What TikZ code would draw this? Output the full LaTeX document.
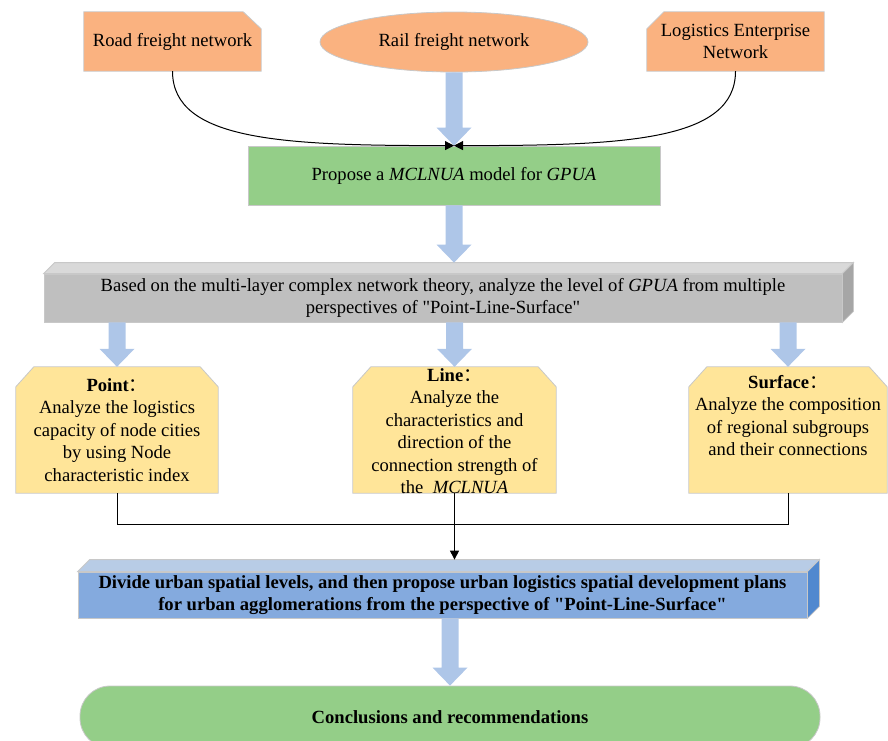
\documentclass[tikz,border=0pt]{standalone}
\usepackage{fontspec}
\setmainfont{Liberation Serif}[Ligatures=TeXOff]
\newfontfamily\cjk{Noto Sans CJK SC}
\usetikzlibrary{shapes.geometric,arrows.meta,calc,backgrounds}
\definecolor{orangeF}{RGB}{250,178,128}
\definecolor{greenF}{RGB}{148,206,136}
\definecolor{yellowF}{RGB}{255,229,153}
\definecolor{grayFront}{RGB}{191,191,191}
\definecolor{grayTop}{RGB}{217,217,217}
\definecolor{graySide}{RGB}{166,166,166}
\definecolor{blueFront}{RGB}{132,170,222}
\definecolor{blueTop}{RGB}{184,204,230}
\definecolor{blueSide}{RGB}{80,136,207}
\definecolor{arrowBlue}{RGB}{174,198,232}
\definecolor{borderGray}{RGB}{200,200,200}
\newcommand\myfatarrow[2]{\fill[arrowBlue] ($(#1)+(-8.5,0)$) -- ($(#2)+(-8.5,-18)$) -- ($(#2)+(-17.5,-18)$) -- (#2) -- ($(#2)+(17.5,-18)$) -- ($(#2)+(8.5,-18)$) -- ($(#1)+(8.5,0)$) -- cycle;}
\begin{document}
\begin{tikzpicture}[x=1pt,y=-1pt,
  txt/.style={font=\fontsize{18.6}{22.5}\selectfont, align=center, inner sep=0pt},
  boxline/.style={draw=borderGray, line width=0.8pt},
  conn/.style={draw=black, line width=1pt},
  tipend/.style={-{Triangle[length=9pt,width=9pt]}}]
\useasboundingbox (0,0) rectangle (888,740);

% top row
\node[txt, minimum width=177pt, minimum height=59pt] (road) at (172.5,41.5) {Road freight network};
\node[txt, ellipse, boxline, fill=orangeF, minimum width=268pt, minimum height=60pt] (rail) at (454,42) {Rail freight network};
\node[txt, minimum width=177pt, minimum height=59pt] (lent) at (735.5,41.5) {Logistics Enterprise\\Network};
\begin{scope}[on background layer]
\fill[orangeF, boxline] (road.south west) -- (road.north west) -- ([xshift=-18pt]road.north east) -- ([yshift=-17pt]road.north east) -- (road.south east) -- cycle;
\fill[orangeF, boxline] (lent.south west) -- ([yshift=-17pt]lent.north west) -- ([xshift=17pt]lent.north west) -- (lent.north east) -- (lent.south east) -- cycle;
\end{scope}

% model box
\node[txt, boxline, fill=greenF, minimum width=412pt, minimum height=59pt] (model) at (454,175.5) {Propose a \textit{MCLNUA} model for \textit{GPUA}};
\coordinate (meet) at (model.north);

% gray 3D box
\node[txt, boxline, fill=grayFront, minimum width=798pt, minimum height=48pt] (theory) at (443,298) {Based on the multi-layer complex network theory, analyze the level of \textit{GPUA} from multiple\\perspectives of "Point-Line-Surface"};
\fill[grayTop, boxline] (theory.north west) -- ++(11,-11) -- ($(theory.north east)+(11,-11)$) -- (theory.north east) -- cycle;
\fill[graySide, boxline] (theory.north east) -- ++(11,-11) -- ($(theory.south east)+(11,-11)$) -- (theory.south east) -- cycle;
\coordinate (graytop) at ($(theory.north)+(5,-11)$);

% yellow boxes
\node[minimum width=202pt, minimum height=126pt, inner sep=0pt] (point) at (117,430) {};
\node[minimum width=203pt, minimum height=126pt, inner sep=0pt] (line) at (454.5,430) {};
\node[minimum width=198pt, minimum height=126pt, inner sep=0pt] (surface) at (788,430) {};
\begin{scope}[on background layer]
\foreach \b in {point,line,surface}{
  \fill[yellowF, boxline] (\b.south west) -- ([yshift=-20pt]\b.north west) -- ([xshift=18pt]\b.north west) -- ([xshift=-18pt]\b.north east) -- ([yshift=-20pt]\b.north east) -- (\b.south east) -- cycle;
}
\end{scope}
\node[txt] (pointtext) at (point.center) {\textbf{Point}{\cjk ：}\\Analyze the logistics\\capacity of node cities\\by using Node\\characteristic index};
\node[txt] (linetext) at ([yshift=-1pt]line.center) {\textbf{Line}{\cjk ：}\\Analyze the\\characteristics and\\direction of the\\connection strength of\\the \ \textit{MCLNUA}};
\node[txt, anchor=north] (surfacetext) at ([yshift=-8pt]surface.north) {\textbf{Surface}{\cjk ：}\\Analyze the composition\\of regional subgroups\\and their connections};

% blue 3D box
\node[txt, boxline, fill=blueFront, minimum width=729pt, minimum height=46pt] (plan) at (442.5,595) {\bfseries Divide urban spatial levels, and then propose urban logistics spatial development plans\\\bfseries for urban agglomerations from the perspective of "Point-Line-Surface"};
\fill[blueTop, boxline] (plan.north west) -- ++(12,-12) -- ($(plan.north east)+(12,-12)$) -- (plan.north east) -- cycle;
\fill[blueSide, boxline] (plan.north east) -- ++(12,-12) -- ($(plan.south east)+(12,-12)$) -- (plan.south east) -- cycle;
\coordinate (plantop) at ($(plan.north)+(6,-12)$);

% conclusions
\node[txt, boxline, fill=greenF, rounded corners=30pt, minimum width=740pt, minimum height=62pt] (concl) at (450,717) {\textbf{Conclusions and recommendations}};

% fat arrows
\myfatarrow{rail.south}{model.north}
\myfatarrow{model.south}{model.south |- graytop}
\myfatarrow{point.north |- theory.south}{point.north}
\myfatarrow{line.north |- theory.south}{line.north}
\myfatarrow{surface.north |- theory.south}{surface.north}
\myfatarrow{concl.north |- plan.south}{concl.north}

% black connectors
\draw[conn, tipend] (road.south) .. controls ($(road.south)+(0,70)$) and ($(meet)+(-170,0)$) .. (meet);
\draw[conn, tipend] (lent.south) .. controls ($(lent.south)+(0,70)$) and ($(meet)+(170,0)$) .. (meet);
\draw[conn] (point.south) -- ++(0,31) -| (surface.south);
\draw[conn, tipend] (line.south) -- (line.south |- plantop);
\end{tikzpicture}
\end{document}
